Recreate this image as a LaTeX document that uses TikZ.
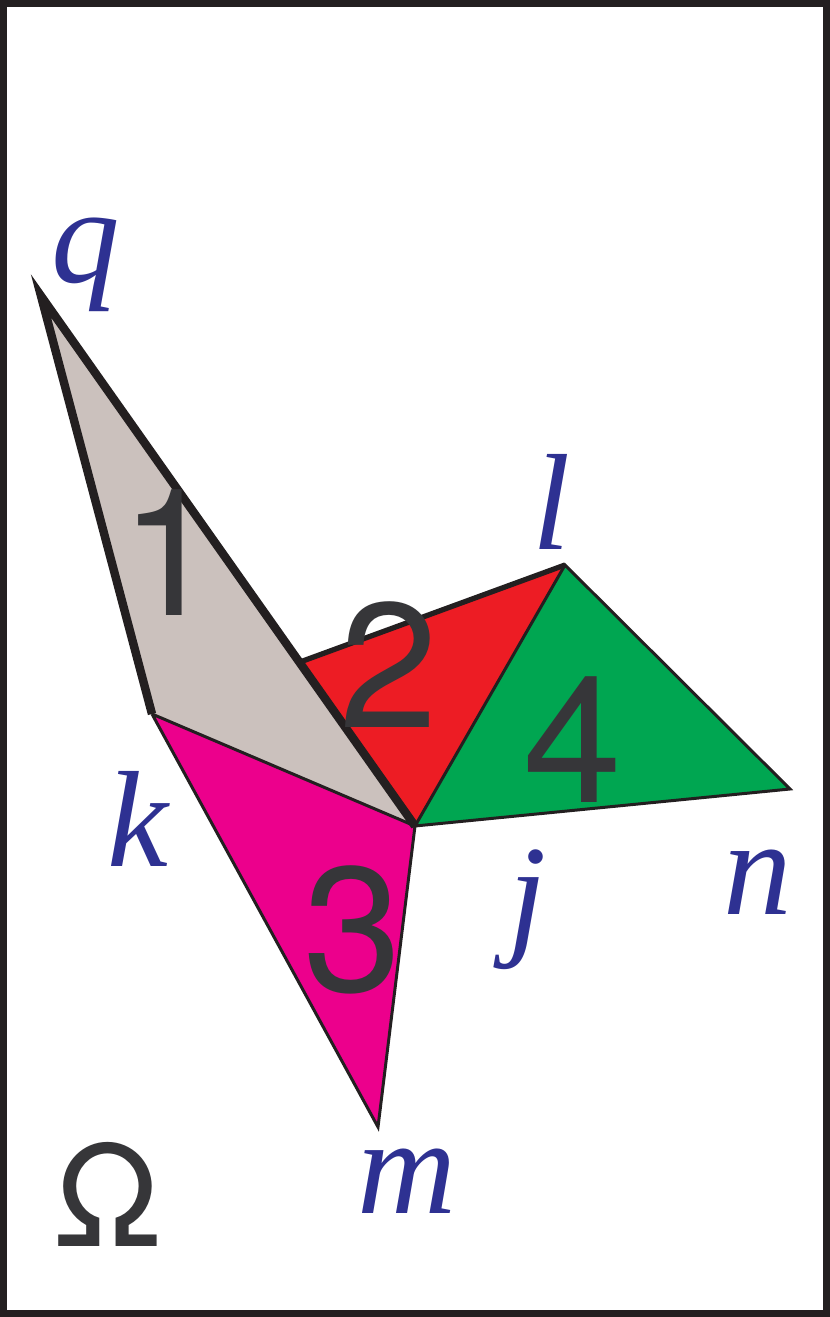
\documentclass[tikz,border=0pt]{standalone}
\usepackage{fontspec}
\setmainfont{Liberation Serif}
\newfontfamily\digitfont{TeX Gyre Heros}
\definecolor{tgray}{HTML}{CBC1BD}
\definecolor{tred}{HTML}{ED1C24}
\definecolor{tmag}{HTML}{EC008C}
\definecolor{tgreen}{HTML}{00A651}
\definecolor{ink}{HTML}{231F20}
\definecolor{numink}{HTML}{363639}
\definecolor{vblue}{HTML}{2E3192}
\tikzset{
  vname/.style={anchor=base,inner sep=0pt,text=vblue,font=\fontsize{78}{78}\selectfont\itshape},
  tnum/.style={anchor=base,inner sep=0pt,text=numink,font=\digitfont\fontsize{101}{101}\selectfont},
  thin edge/.style={draw=ink,line width=1.7pt,line join=miter},
  thick edge/.style={draw=ink,line width=4.8pt,line join=miter},
}
\begin{document}
\begin{tikzpicture}[x=0.02cm,y=-0.02cm]
\useasboundingbox (0,0) rectangle (830,1317);
\draw[ink,line width=3.97pt] (3.5,3.5) rectangle (826.5,1313.5);

\coordinate (q) at (41,296);
\coordinate (k) at (152,714);
\coordinate (j) at (415,826);
\coordinate (l) at (565,565);
\coordinate (n) at (790,789);
\coordinate (m) at (378,1127);
\coordinate (r) at (300,662);

\fill[tgray] (q) -- (k) -- (j) -- cycle;
\fill[tred] (r) -- (l) -- (j) -- cycle;
\fill[tmag] (k) -- (j) -- (m) -- cycle;
\fill[tgreen] (j) -- (l) -- (n) -- cycle;

\path[thin edge] (k) -- (m) -- (j) -- (k);
\path[thin edge] (j) -- (l) -- (n) -- cycle;
\path[draw=ink,line width=3pt] (r) -- (l);
\path[thick edge] (k) -- (q) -- (j);

\node[tnum] (t1) at (170,615) {1};
\node[tnum] (t2) at (389,727) {2};
\node[tnum] (t3) at (353,991) {3};
\node[tnum] (t4) at (573,802) {4};
\node[anchor=base,inner sep=0pt,text=numink,font=\digitfont\fontsize{80}{80}\selectfont] (omega) at (108,1246) {Ω};

\node[vname] (lq) at (86,283) {q};
\node[vname] (ll) at (552,549) {l};
\node[vname] (lk) at (138,866) {k};
\node[vname] (lj) at (528,940) {j};
\node[vname] (ln) at (758,914) {n};
\node[vname] (lm) at (407,1213) {m};
\end{tikzpicture}
\end{document}
